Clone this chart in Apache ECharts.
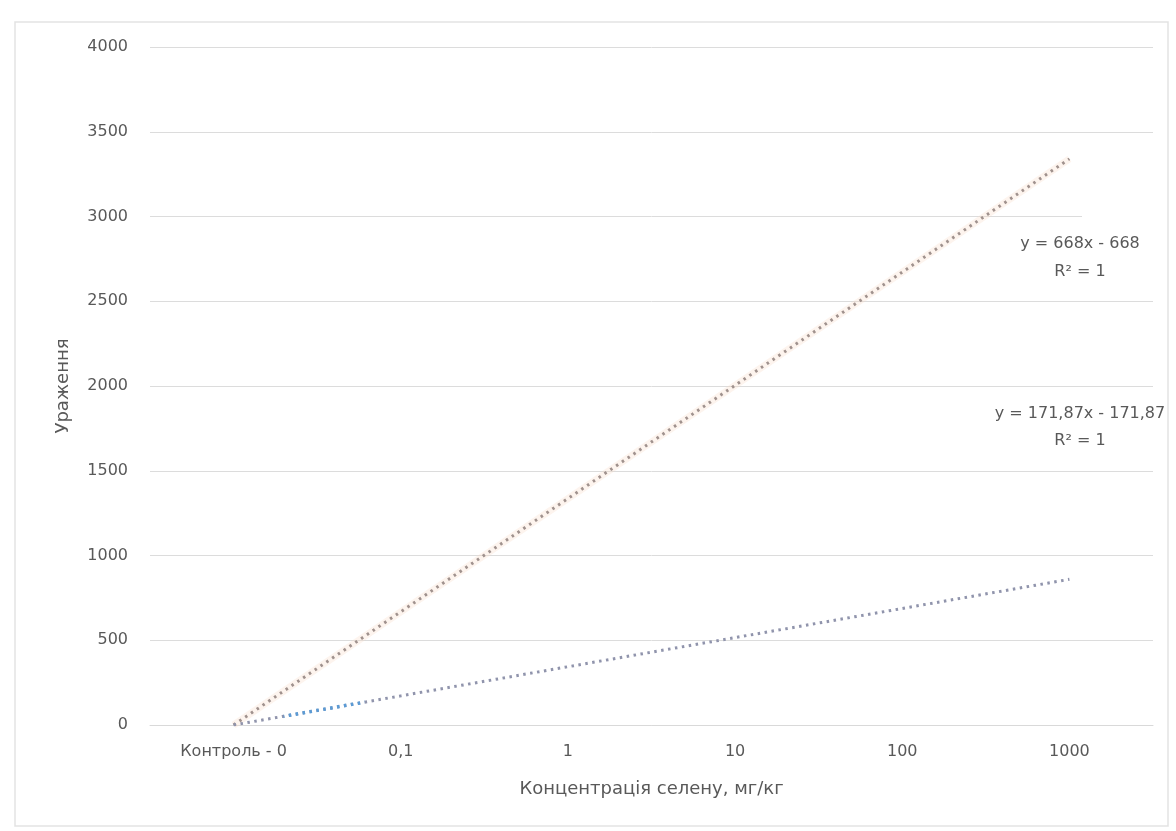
<!DOCTYPE html>
<html>
<head>
<meta charset="utf-8">
<script src="https://cdn.jsdelivr.net/npm/echarts@6/dist/echarts.min.js"></script>
<style>
  html, body { margin: 0; padding: 0; background: #fff; }
  #chart { width: 1176px; height: 831px; }
</style>
</head>
<body>
<div id="chart"></div>
<script>
// дані
const categories = ['Контроль - 0', '0,1', '1', '10', '100', '1000'];
const seriesA = [0, 668, 1336, 2004, 2672, 3340];          // помаранчевий ряд
const seriesB = [0, 171.87];                               // синій ряд
const trendA = [0, 668, 1336, 2004, 2672, 3340];           // y = 668x - 668
const trendB = [0, 171.87, 343.74, 515.61, 687.48, 859.35]; // y = 171,87x - 171,87
const yTicks = [0, 500, 1000, 1500, 2000, 2500, 3000, 3500, 4000];

const textColor = '#595959';
const font = 'DejaVu Sans';

const myChart = echarts.init(document.getElementById('chart'));

myChart.setOption({
  animation: false,
  textStyle: { fontFamily: font },
  grid: { left: 150, right: 23, top: 47, bottom: 106 },
  xAxis: {
    type: 'category',
    data: categories,
    boundaryGap: true,
    name: 'Концентрація селену, мг/кг',
    nameLocation: 'middle',
    nameGap: 55,
    nameTextStyle: { fontSize: 18, color: textColor, fontFamily: font },
    axisLine: { show: true, lineStyle: { color: '#d9d9d9' } },
    axisTick: { show: false },
    axisLabel: { fontSize: 16, color: textColor, margin: 19 }
  },
  yAxis: {
    type: 'value',
    min: yTicks[0],
    max: yTicks[yTicks.length - 1],
    interval: 500,
    name: 'Ураження',
    nameLocation: 'middle',
    nameGap: 78,
    nameTextStyle: { fontSize: 18, color: textColor, fontFamily: font },
    axisLine: { show: false },
    axisTick: { show: false },
    axisLabel: { fontSize: 16, color: textColor, margin: 22, formatter: (v) => String(v) },
    splitLine: { lineStyle: { color: '#dcdcdc', width: 1 } }
  },
  series: [
    {
      // блідий ряд під лінією тренду
      type: 'line',
      data: seriesA,
      symbol: 'none',
      silent: true,
      lineStyle: { color: 'rgba(250, 220, 200, 0.3)', width: 7 }
    },
    {
      name: 'Лінійна (тренд 1)',
      type: 'line',
      data: trendA,
      symbol: 'none',
      silent: true,
      z: 3,
      lineStyle: { color: '#a0928e', width: 3, type: [2.5, 4.5] }
    },
    {
      name: 'Лінійна (тренд 2)',
      type: 'line',
      data: trendB,
      symbol: 'none',
      silent: true,
      z: 3,
      lineStyle: { color: '#9094ac', width: 3, type: [2.5, 4.5] }
    },
    {
      type: 'line',
      data: seriesB,
      symbol: 'none',
      silent: true,
      z: 4,
      lineStyle: {
        width: 3.5,
        type: [2.5, 4.5],
        color: new echarts.graphic.LinearGradient(0, 0, 1, 0, [
          { offset: 0, color: 'rgba(91,155,213,0)' },
          { offset: 0.3, color: 'rgba(91,155,213,0)' },
          { offset: 0.31, color: 'rgba(91,155,213,1)' },
          { offset: 0.77, color: 'rgba(91,155,213,1)' },
          { offset: 0.78, color: 'rgba(91,155,213,0)' },
          { offset: 1, color: 'rgba(91,155,213,0)' }
        ])
      }
    }
  ],
  graphic: [
    {
      type: 'rect',
      shape: { x: 15, y: 22, width: 1153, height: 804 },
      style: { fill: 'none', stroke: '#e3e3e3', lineWidth: 1.5 },
      silent: true,
      z: -10
    },
    {
      type: 'rect',
      shape: { x: 1082, y: 212, width: 78, height: 76 },
      style: { fill: '#fff' },
      silent: true,
      z: 5
    },
    {
      type: 'text',
      x: 1080,
      y: 258,
      z: 6,
      style: {
        text: 'y = 668x - 668\nR² = 1',
        fill: textColor,
        font: '16px "DejaVu Sans"',
        align: 'center',
        verticalAlign: 'middle',
        lineHeight: 28
      }
    },
    {
      type: 'text',
      x: 1080,
      y: 427,
      z: 6,
      style: {
        text: 'y = 171,87x - 171,87\nR² = 1',
        fill: textColor,
        font: '16px "DejaVu Sans"',
        align: 'center',
        verticalAlign: 'middle',
        lineHeight: 27
      }
    }
  ]
});
</script>
</body>
</html>
